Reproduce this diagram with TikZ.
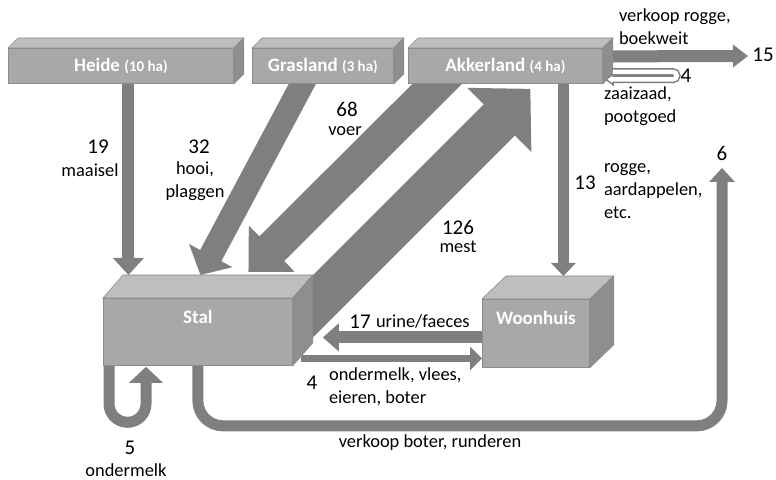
\documentclass[tikz,border=0pt]{standalone}
\usepackage{fontspec}
\setmainfont{Carlito}
\usetikzlibrary{arrows.meta}
\pgfdeclarelayer{achter}
\pgfsetlayers{achter,main}

\definecolor{pijlgrijs}{HTML}{7F7F7F}
\definecolor{voorgrijs}{HTML}{A8A8A8}
\definecolor{bovengrijs}{HTML}{BEBEBE}
\definecolor{zijgrijs}{HTML}{8E8E8E}
\definecolor{randgrijs}{HTML}{8C8C8C}

% top face and right face of a box, #2/#3 = depth
\newcommand{\blokzijden}[3]{%
  \filldraw[bovenvlak] (#1.north west) -- ++(#2,#3) -- ([shift={(#2,#3)}]#1.north east) -- (#1.north east) -- cycle;
  \filldraw[zijvlak] (#1.north east) -- ++(#2,#3) -- ([shift={(#2,#3)}]#1.south east) -- (#1.south east) -- cycle;
}

\begin{document}
\begin{tikzpicture}[x=0.5pt, y=-0.5pt]
\tikzset{
  blok/.style={
    draw=randgrijs, fill=voorgrijs, rectangle, anchor=north west,
    inner sep=0pt, text=white, font=\bfseries\fontsize{9.5}{11}\selectfont
  },
  bovenvlak/.style={draw=randgrijs, fill=bovengrijs, line width=0.3pt},
  zijvlak/.style={draw=randgrijs, fill=zijgrijs, line width=0.3pt},
  stroom/.style={draw=pijlgrijs},
  getal/.style={font=\fontsize{10.5}{12}\selectfont, inner sep=1pt},
  uitleg/.style={font=\fontsize{9.2}{11.5}\selectfont, align=left}
}
\newcommand{\ha}[1]{{\fontsize{7.5}{9}\selectfont(#1 ha)}}
\useasboundingbox (0,0) rectangle (776,480);

% boxes
\node[blok, minimum width=112.5pt, minimum height=17.5pt] (heide) at (8,48) {Heide \ha{10}};
\node[blok, minimum width=70.5pt, minimum height=17.5pt] (grasland) at (252,48) {Grasland \ha{3}};
\node[blok, minimum width=97pt, minimum height=17.5pt] (akkerland) at (408,48) {Akkerland \ha{4}};
\node[blok, minimum width=94.5pt, text height=12.7pt, text depth=20.8pt] (stal) at (103,298) {Stal};
\node[blok, minimum width=53.5pt, text height=12.7pt, text depth=21.3pt] (woonhuis) at (482,299) {Woonhuis};
\blokzijden{heide}{10}{-10}
\blokzijden{grasland}{10}{-10}
\blokzijden{akkerland}{10}{-10}
\blokzijden{stal}{20}{-23}
\blokzijden{woonhuis}{24}{-23}

\coordinate (uit15) at (748,56);
\coordinate (uit6) at (722,168);

% flows
\begin{pgfonlayer}{achter}
\draw[stroom, line width=6pt, -{Triangle[width=15pt,length=8.5pt]}] ([shift={(7.5,0)}]heide.south) -- ([shift={(-69.5,-23)}]stal.north);
\draw[stroom, line width=12pt, -{Triangle[width=24pt,length=11pt]}] ([shift={(-12.5,-15)}]grasland.south) -- ([shift={(2.5,-23)}]stal.north);
\draw[stroom, line width=17.5pt, -{Triangle[width=31.5pt,length=16.5pt]}] ([shift={(-48,-20)}]akkerland.south) -- ([shift={(50.5,-26)}]stal.north);
\draw[stroom, line width=22pt, -{Triangle[width=44pt,length=22pt]}] ([shift={(-7,1.5)}]stal.east) -- ([shift={(25,5)}]akkerland.south);
\draw[stroom, line width=5.5pt, -{Triangle[width=12pt,length=6.5pt]}] ([shift={(58,0)}]akkerland.south) -- ([shift={(27.5,-23)}]woonhuis.north);
\draw[stroom, line width=6pt, -{Triangle[width=11pt,length=7.5pt]}] ([shift={(3,-9.5)}]akkerland.east) -- (uit15);
\draw[stroom, line width=6pt, -{Triangle[width=13.5pt,length=8pt]}] ([shift={(0,4)}]woonhuis.west) -- ([shift={(30,5.5)}]stal.east);
\draw[stroom, line width=3.5pt, -{Triangle[width=11.5pt,length=6pt]}] ([shift={(8,26.5)}]stal.east) -- ([shift={(0,25)}]woonhuis.west);
\draw[stroom, line width=5.5pt, rounded corners=9.25pt, -{Triangle[width=16.5pt,length=8pt]}] ([shift={(6,0)}]stal.south west) -- ++(0,56.5) -| ([shift={(43,1)}]stal.south west);
\draw[stroom, line width=5.5pt, rounded corners=12.5pt, -{Triangle[width=12.5pt,length=7pt]}] (stal.south) -- ++(0,60) -| (uit6);
\end{pgfonlayer}

% seed loop
\draw[stroom, line width=3.75pt, rounded corners=1.875pt, -{Triangle[width=6.5pt,length=4.5pt]}] ([shift={(10,6)}]akkerland.east) -- ++(64,0) -- ++(0,7.5) -- ([shift={(2,13.5)}]akkerland.east);
\draw[white, line width=2.25pt, rounded corners=1.875pt, shorten >=1.3pt, -{Triangle[width=3.6pt,length=2.5pt]}] ([shift={(10,6)}]akkerland.east) -- ++(64,0) -- ++(0,7.5) -- ([shift={(2,13.5)}]akkerland.east);

% labels
\node[getal] (n19) at (98,147) {19};
\node[uitleg] (t19) at (90,170) {maaisel};
\node[getal] (n32) at (199,147) {32};
\node[uitleg, align=center] (t32) at (195,181) {hooi,\\plaggen};
\node[getal] (n68) at (347,109) {68};
\node[uitleg, inner sep=1pt] (t68) at (345,131) {voer};
\node[getal] (n126) at (458,227) {126};
\node[uitleg] (t126) at (458,247) {mest};
\node[getal] (n13) at (585,183) {13};
\node[uitleg, anchor=west] (t13) at (597,191) {rogge,\\aardappelen,\\etc.};
\node[getal] (n6) at (722,153) {6};
\node[uitleg, anchor=west] (t15) at (612,27) {verkoop rogge,\\boekweit};
\node[getal] (n15) at (763,55) {15};
\node[getal] (n4a) at (686,76) {4};
\node[uitleg, anchor=west] (t4a) at (597,106) {zaaizaad,\\pootgoed};
\node[getal] (n17) at (360,322) {17};
\node[uitleg, anchor=west] (t17) at (369,322) {urine/faeces};
\node[getal] (n4b) at (312,383) {4};
\node[uitleg, anchor=west] (t4b) at (322,387) {ondermelk, vlees,\\eieren, boter};
\node[getal] (n5) at (130,448) {5};
\node[uitleg] (t5) at (126,470) {ondermelk};
\node[uitleg] (t6) at (430,443) {verkoop boter, runderen};
\end{tikzpicture}
\end{document}
